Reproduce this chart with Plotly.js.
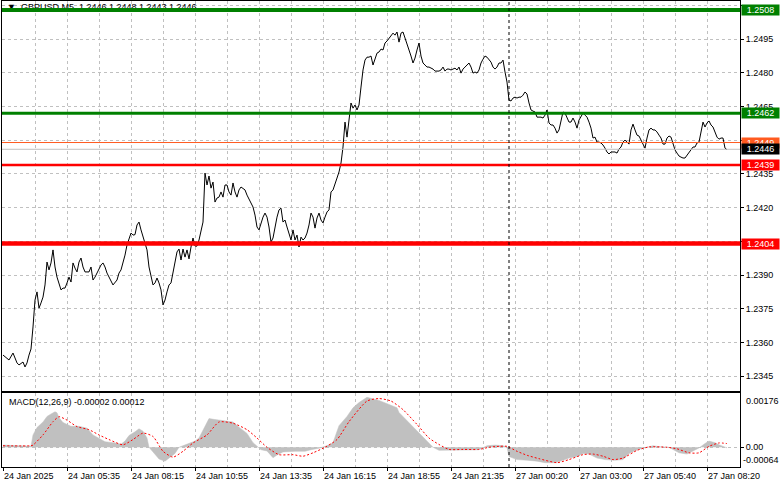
<!DOCTYPE html>
<html><head><meta charset="utf-8">
<script src="https://cdn.plot.ly/plotly-3.0.1.min.js"></script>
<style>html,body{margin:0;padding:0;background:#fff}#chart{width:781px;height:489px}</style>
</head><body><div id="chart"></div>
<script>
// ---- data (bar index = number of M5 bars since first bar, 24 Jan 2025 02:55) ----
const priceBars = [
0,2,3,5,6,7,8,10,11,12,
13,14,15,16,17,18,19,20,21,22,
23,24,25,26,27,28,29,30,31,32,
33,34,35,36,37,38,39,40,41,42,
43,44,45,46,47,48,49,50,51,52,
54,55,57,58,59,60,61,62,63,64,
65,66,67,68,69,70,72,73,74,75,
76,77,78,79,80,81,82,83,84,85,
86,87,88,89,90,91,92,93,94,95,
96,97,98,99,100,101,102,103,104,105,
106,107,108,109,110,111,112,113,114,115,
116,117,118,119,121,122,124,125,126,127,
128,129,130,131,132,133,134,135,136,137,
138,139,140,141,142,143,144,145,146,147,
148,149,150,151,152,153,154,155,156,157,
158,159,160,161,162,163,164,165,166,167,
168,169,170,171,172,173,174,175,176,177,
178,179,180,181,182,183,184,185,186,187,
188,189,190,191,192,193,194,195,196,197,
198,199,200,201,202,203,204,205,206,207,
208,209,210,211,212,213,214,215,216,217,
218,219,220,221,222,223,224,225,226,227,
228,229,230,231,232,233,234,235,236,237,
238,239,240,241,242,243,244,245,246,247,
248,249,250,251,252,253,254,255,256,257,
258,259,260,261,262,263,264,265,266,267,
268,269,270,271,272,273,274,275,276,277,
278,279,280,281,282,283,284,285,286,287,
288,289,290,291,292,293,294,295,296,297,
298,299,300,301,302,303,304,305,306,307,
308,309,310,311,312,313,314,315,316,317,
318,319,320,321,322,323,324,325,326,327,
328,329,330,331,332,333,334,335,336,337,
338,339,340,341,342,343,344,345,346,347,
348,349,350,351,352,353,354,355,356,357,
358,359,360,361,362];
const priceClose = [
1.23544,1.23531,1.23522,1.23553,1.23526,1.23509,1.23500,1.23513,1.23491,1.23509,
1.23544,1.23571,1.23669,1.23789,1.23825,1.23753,1.23776,1.23802,1.23856,1.23958,
1.23923,1.23954,1.24012,1.23936,1.23891,1.23865,1.23834,1.23842,1.23842,1.23865,
1.23891,1.23869,1.23954,1.23931,1.23914,1.23958,1.23976,1.23936,1.23914,1.23914,
1.23914,1.23936,1.23878,1.23891,1.23909,1.23923,1.23945,1.23954,1.23936,1.23909,
1.23878,1.23856,1.23878,1.23909,1.23923,1.23954,1.23989,1.24034,1.24065,1.24087,
1.24078,1.24080,1.24123,1.24136,1.24101,1.24069,1.24012,1.23936,1.23887,1.23856,
1.23865,1.23887,1.23865,1.23834,1.23767,1.23789,1.23825,1.23856,1.23865,1.23909,
1.23954,1.24003,1.24016,1.23967,1.24016,1.23980,1.24012,1.23972,1.24025,1.24065,
1.24029,1.24029,1.24056,1.24092,1.24136,1.24354,1.24301,1.24341,1.24287,1.24314,
1.24225,1.24243,1.24247,1.24270,1.24247,1.24301,1.24301,1.24270,1.24256,1.24310,
1.24270,1.24247,1.24279,1.24292,1.24279,1.24256,1.24225,1.24203,1.24167,1.24114,
1.24101,1.24132,1.24158,1.24176,1.24158,1.24114,1.24047,1.24065,1.24114,1.24158,
1.24190,1.24198,1.24136,1.24145,1.24114,1.24087,1.24056,1.24101,1.24056,1.24078,
1.24025,1.24069,1.24056,1.24065,1.24087,1.24123,1.24176,1.24158,1.24109,1.24154,
1.24176,1.24145,1.24132,1.24158,1.24181,1.24190,1.24270,1.24279,1.24310,1.24332,
1.24359,1.24399,1.24470,1.24581,1.24514,1.24590,1.24666,1.24643,1.24657,1.24635,
1.24657,1.24737,1.24813,1.24857,1.24870,1.24870,1.24875,1.24835,1.24866,1.24888,
1.24893,1.24906,1.24902,1.24933,1.24942,1.24955,1.24968,1.24977,1.24968,1.24982,
1.24937,1.24977,1.24982,1.24955,1.24928,1.24910,1.24875,1.24844,1.24866,1.24902,
1.24933,1.24875,1.24844,1.24835,1.24826,1.24826,1.24821,1.24817,1.24808,1.24808,
1.24808,1.24813,1.24826,1.24808,1.24817,1.24817,1.24813,1.24817,1.24821,1.24813,
1.24826,1.24799,1.24817,1.24826,1.24835,1.24844,1.24826,1.24799,1.24804,1.24799,
1.24813,1.24844,1.24861,1.24875,1.24870,1.24857,1.24848,1.24826,1.24817,1.24826,
1.24844,1.24844,1.24857,1.24804,1.24759,1.24679,1.24675,1.24688,1.24692,1.24688,
1.24692,1.24692,1.24701,1.24715,1.24706,1.24666,1.24635,1.24630,1.24626,1.24603,
1.24603,1.24603,1.24599,1.24612,1.24635,1.24577,1.24568,1.24568,1.24554,1.24532,
1.24546,1.24581,1.24626,1.24621,1.24603,1.24581,1.24581,1.24599,1.24581,1.24554,
1.24590,1.24608,1.24621,1.24612,1.24603,1.24581,1.24554,1.24510,1.24514,1.24492,
1.24492,1.24488,1.24479,1.24465,1.24448,1.24439,1.24448,1.24448,1.24448,1.24443,
1.24461,1.24470,1.24492,1.24501,1.24492,1.24483,1.24546,1.24572,1.24546,1.24523,
1.24519,1.24501,1.24488,1.24465,1.24510,1.24546,1.24554,1.24546,1.24546,1.24537,
1.24523,1.24510,1.24483,1.24483,1.24510,1.24519,1.24514,1.24488,1.24457,1.24443,
1.24430,1.24425,1.24421,1.24421,1.24434,1.24448,1.24461,1.24470,1.24470,1.24488,
1.24492,1.24546,1.24581,1.24559,1.24577,1.24586,1.24568,1.24559,1.24537,1.24514,
1.24505,1.24510,1.24510,1.24465,1.24458];

// MACD(12,26,9) main (histogram) and signal
const macdBars = [0,6,11,14,15,17,20,22,24,26,27,28,30,32,34,38,42,45,47,51,56,59,61,63,66,68,70,72,73,76,78,81,83,86,88,92,96,98,101,103,106,111,115,118,122,125,127,129,132,135,137,140,146,151,154,158,162,165,168,172,175,178,182,185,188,193,197,198,203,208,212,215,218,223,233,238,242,246,250,252,253,257,262,267,271,276,280,283,287,290,293,297,301,306,310,313,317,321,325,328,333,338,342,345,348,351,353,356,358,362];
const macdMain = [0.00007,0.00005,0.00004,0.00003,0.00040,0.00064,0.00082,0.00100,0.00108,0.00115,0.00112,0.00096,0.00080,0.00074,0.00068,0.00068,0.00062,0.00040,0.00033,0.00018,0.00014,0.00010,0.00020,0.00038,0.00050,0.00060,0.00052,0.00030,0.00000,-0.00025,-0.00038,-0.00045,-0.00035,-0.00020,0.00000,0.00010,0.00020,0.00030,0.00070,0.00093,0.00090,0.00086,0.00082,0.00065,0.00045,0.00015,0.00005,-0.00008,-0.00012,-0.00034,-0.00025,-0.00015,-0.00013,-0.00013,-0.00008,-0.00003,0.00005,0.00015,0.00070,0.00100,0.00128,0.00145,0.00162,0.00158,0.00152,0.00139,0.00128,0.00113,0.00080,0.00048,0.00020,0.00000,-0.00010,-0.00010,-0.00010,-0.00008,0.00005,0.00007,0.00005,0.00000,-0.00030,-0.00040,-0.00042,-0.00045,-0.00050,-0.00050,-0.00042,-0.00035,-0.00030,-0.00020,-0.00022,-0.00035,-0.00040,-0.00042,-0.00040,-0.00020,-0.00008,-0.00002,0.00005,0.00002,0.00000,-0.00018,-0.00022,-0.00012,-0.00002,0.00012,0.00020,0.00015,0.00008,-0.00002];
const signalBars = [0,14,15,20,25,28,32,37,43,48,53,60,65,70,75,80,85,90,95,102,108,115,122,127,132,138,145,150,155,161,167,173,182,188,194,200,207,213,218,223,230,238,243,248,252,257,262,268,277,283,290,295,300,305,310,317,323,332,337,343,348,353,358,362];
const macdSignal = [0.00005,0.00005,0.00007,0.00040,0.00083,0.00099,0.00088,0.00067,0.00057,0.00040,0.00025,0.00008,0.00025,0.00046,0.00035,-0.00013,-0.00032,-0.00013,0.00014,0.00040,0.00082,0.00078,0.00057,0.00030,0.00000,-0.00024,-0.00024,-0.00029,-0.00018,0.00000,0.00025,0.00083,0.00150,0.00158,0.00150,0.00122,0.00074,0.00030,0.00009,-0.00007,-0.00007,-0.00007,0.00000,0.00003,0.00003,-0.00013,-0.00026,-0.00037,-0.00050,-0.00040,-0.00024,-0.00022,-0.00029,-0.00040,-0.00035,-0.00010,0.00001,0.00000,-0.00005,-0.00018,-0.00018,0.00003,0.00014,0.00012];

const timeTickBars = [0,32,64,96,128,160,192,224,256,288,320,352];
const timeTickLabels = ["24 Jan 2025","24 Jan 05:35","24 Jan 08:15","24 Jan 10:55","24 Jan 13:35","24 Jan 16:15","24 Jan 18:55","24 Jan 21:35","27 Jan 00:20","27 Jan 03:00","27 Jan 05:40","27 Jan 08:20"];
const priceTickValues = [1.2345,1.2360,1.2375,1.2390,1.2405,1.2420,1.2435,1.2450,1.2465,1.2480,1.2495,1.2510];
// labels hidden behind the level boxes in the reference are left blank
const priceTickLabels = ["1.2345","1.2360","1.2375","1.2390","","1.2420","1.2435","","1.2465","1.2480","1.2495",""];
const macdRange = [-0.00064, 0.00176];
const resistanceLevels = [1.2508, 1.2462];
const supportLevels = [1.2439, 1.2404];
const askPrice = 1.2449;
const bidPrice = 1.2446;
const daySeparatorBar = 253;
const headerText = "▼  GBPUSD,M5  1.2446 1.2448 1.2443 1.2446";
const macdText = "MACD(12,26,9) -0.00002 0.00012";

// ---- styles ----
const GRID = '#c0c0c0';
const FONT = 'Liberation Sans, Arial, sans-serif';
const resStyle = [{color:'#008000', width:4},{color:'#008000', width:3}];
const supStyle = [{color:'#ff0000', width:2.5},{color:'#ff0000', width:4.5}];
const ASK = '#ff5a1f';

const traces = [
  {x:[2], y:[1.25088], mode:'text', text:[headerText], textposition:'middle right',
   textfont:{family:FONT, size:9, color:'#000'}, xaxis:'x', yaxis:'y', cliponaxis:false, hoverinfo:'skip'},
  {x:priceBars, y:priceClose, mode:'lines', line:{color:'#000', width:1}, xaxis:'x', yaxis:'y', hoverinfo:'skip'},
  {x:macdBars, y:macdMain, mode:'lines', fill:'tozeroy', fillcolor:GRID, line:{color:GRID, width:0.5},
   xaxis:'x2', yaxis:'y2', hoverinfo:'skip'},
  {x:signalBars, y:macdSignal, mode:'lines', line:{color:'#ff0000', width:1, dash:'2px,2px', shape:'spline', smoothing:0.6},
   xaxis:'x2', yaxis:'y2', hoverinfo:'skip'}
];

const shapes = [];
const hline = (y, color, width) => ({type:'line', xref:'paper', x0:0, x1:1, yref:'y', y0:y, y1:y, layer:'above', line:{color, width}});
shapes.push(hline(bidPrice, GRID, 1));
shapes.push(hline(askPrice, ASK, 1));
resistanceLevels.forEach((v,i)=>shapes.push(hline(v, resStyle[i].color, resStyle[i].width)));
supportLevels.forEach((v,i)=>shapes.push(hline(v, supStyle[i].color, supStyle[i].width)));
shapes.push({type:'line', xref:'x', x0:daySeparatorBar, x1:daySeparatorBar, yref:'paper', y0:0, y1:1, layer:'above',
  line:{color:'#000', width:1, dash:'3px,3px'}});

const annotations = [];
const priceLabel = (v, bg) => ({xref:'paper', x:1, xanchor:'left', xshift:1, yref:'y', y:v, yanchor:'middle',
  text:v.toFixed(4), showarrow:false, bgcolor:bg, font:{family:FONT, size:9, color:'#fff'}, width:37, height:10, borderpad:0, align:'center'});
resistanceLevels.forEach(v=>annotations.push(priceLabel(v, '#008000')));
annotations.push(priceLabel(askPrice, ASK));
annotations.push(priceLabel(bidPrice, '#000'));
supportLevels.forEach(v=>annotations.push(priceLabel(v, '#ff0000')));
annotations.push({xref:'paper', x:1, xanchor:'left', xshift:4, yref:'y2', y:macdRange[1], yanchor:'top', yshift:-1,
  text:macdRange[1].toFixed(5), showarrow:false, font:{family:FONT, size:9, color:'#000'}});
annotations.push({xref:'paper', x:1, xanchor:'left', xshift:1, yref:'y2', y:macdRange[0], yanchor:'bottom', yshift:0,
  text:macdRange[0].toFixed(5), showarrow:false, font:{family:FONT, size:9, color:'#000'}});
annotations.push({xref:'paper', x:0, xanchor:'left', xshift:5, yref:'y2', y:macdRange[1], yanchor:'top', yshift:-2,
  text:macdText, showarrow:false, font:{family:FONT, size:9, color:'#000'}});

const xCommon = {range:[-0.5, 368.5], tickmode:'array', tickvals:timeTickBars, showgrid:true, gridcolor:GRID, gridwidth:1,
  griddash:'3px,3px', zeroline:false, showline:true, mirror:true, linecolor:'#000', linewidth:1,
  minor:{tickmode:'linear', tick0:0, dtick:16, showgrid:true, gridcolor:GRID, gridwidth:1, griddash:'3px,3px', ticks:''}};

const layout = {
  width:781, height:489, margin:{l:2, r:41, t:1, b:22}, showlegend:false,
  paper_bgcolor:'#fff', plot_bgcolor:'#fff', font:{family:FONT, size:9, color:'#000'},
  xaxis:Object.assign({}, xCommon, {domain:[0,1], anchor:'y', showticklabels:false, ticks:''}),
  xaxis2:Object.assign({}, xCommon, {domain:[0,1], anchor:'y2', ticktext:timeTickLabels, ticks:'outside', ticklen:3,
    tickcolor:'#000', ticklabelposition:'outside right', tickfont:{family:FONT, size:9, color:'#000'}}),
  yaxis:{domain:[0.1631,1], range:[1.23384, 1.25120], side:'right', anchor:'x', tickmode:'array', tickvals:priceTickValues,
    ticktext:priceTickLabels, showgrid:true, gridcolor:GRID, griddash:'3px,3px', zeroline:false, showline:true, mirror:true,
    linecolor:'#000', ticks:'outside', ticklen:3, tickcolor:'#000', tickfont:{family:FONT, size:9, color:'#000'}},
  yaxis2:{domain:[0,0.1588], range:macdRange, side:'right', anchor:'x2', tickmode:'array', tickvals:[0], ticktext:['0.00'],
    showgrid:true, gridcolor:GRID, griddash:'3px,3px', zeroline:false, showline:true, mirror:true, linecolor:'#000',
    ticks:'outside', ticklen:3, tickcolor:'#000', tickfont:{family:FONT, size:9, color:'#000'}},
  shapes, annotations
};
Plotly.newPlot('chart', traces, layout, {staticPlot:true, displayModeBar:false});
</script></body></html>
